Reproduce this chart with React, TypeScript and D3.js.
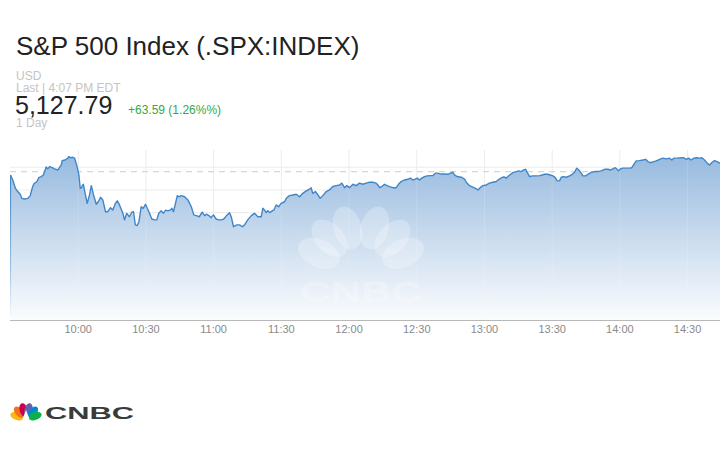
import React from "react";
import * as d3 from "d3";

// ---- Data ----
const title = "S&P 500 Index (.SPX:INDEX)";
const currency = "USD";
const lastLabel = "Last | 4:07 PM EDT";
const lastPrice = "5,127.79";
const changeLabel = "+63.59 (1.26%%)";
const rangeLabel = "1 Day";

const sessionOpen = "09:30";
const sessionClose = "16:00";
const tickLabels = ["10:00", "10:30", "11:00", "11:30", "12:00", "12:30", "13:00", "13:30", "14:00", "14:30"];
const gridLevels = [5075, 5085, 5095, 5105, 5115, 5125, 5135];
const referenceLevel = 5133.1;
const yDomain = [5067.7, 5142.6];

// [minutes after 9:30, price]
const series: [number, number][] = [
  [0, 5131.6], [1.0, 5129.4], [2.2, 5125.7], [3.2, 5124.3], [4.3, 5123.1], [5.0, 5121.3], [6.2, 5121.0], [7.7, 5121.3],
  [8.7, 5122.4], [9.6, 5125.7], [10.3, 5127.6], [11.7, 5128.7], [12.5, 5130.4], [13.6, 5130.9], [14.6, 5131.6], [15.8, 5135.1],
  [16.5, 5134.3], [17.3, 5135.3], [18.5, 5134.8], [19.5, 5134.3], [21.0, 5133.8], [22.5, 5136.0], [22.9, 5137.9], [24.2, 5138.2],
  [25.4, 5139.0], [25.8, 5139.7], [26.6, 5139.2], [27.6, 5139.4], [28.4, 5139.0], [29.4, 5135.7], [30.3, 5131.6], [30.9, 5125.7],
  [31.5, 5126.0], [31.8, 5126.9], [32.3, 5127.5], [32.9, 5124.3], [34.0, 5119.1], [35.0, 5122.8], [35.8, 5126.9], [36.8, 5122.8],
  [38.0, 5118.7], [39.1, 5120.2], [39.9, 5121.8], [40.9, 5120.6], [42.1, 5115.4], [43.1, 5115.4], [44.3, 5117.2], [45.3, 5116.2],
  [46.5, 5119.1], [47.3, 5120.2], [48.3, 5118.4], [49.8, 5114.7], [50.5, 5111.8], [51.5, 5114.7], [52.7, 5113.2], [53.7, 5115.2],
  [54.5, 5115.4], [55.3, 5109.6], [56.1, 5109.3], [56.9, 5111.0], [57.9, 5117.6], [58.8, 5116.9], [59.8, 5118.7], [60.6, 5116.9],
  [61.6, 5114.7], [62.6, 5112.2], [63.8, 5111.8], [64.8, 5111.8], [65.7, 5114.7], [66.8, 5115.8], [67.7, 5114.7], [68.7, 5116.1],
  [69.7, 5115.8], [70.9, 5116.2], [71.5, 5116.9], [72.2, 5115.4], [73.1, 5119.1], [73.9, 5122.5], [74.6, 5122.0], [75.6, 5122.5],
  [77.1, 5122.0], [78.6, 5120.6], [80.1, 5117.6], [81.2, 5114.0], [82.3, 5113.7], [83.7, 5113.2], [84.9, 5115.2], [86.0, 5113.7],
  [86.8, 5114.3], [87.9, 5113.7], [88.9, 5112.8], [89.9, 5114.0], [91.1, 5112.2], [92.2, 5111.8], [93.4, 5111.8], [94.5, 5112.2],
  [96.0, 5114.0], [97.0, 5115.0], [97.8, 5113.2], [98.8, 5108.8], [100.3, 5109.6], [101.5, 5109.6], [102.7, 5108.8], [103.7, 5109.6],
  [105.1, 5111.8], [106.7, 5113.7], [108.1, 5114.7], [109.6, 5113.2], [111.1, 5113.2], [111.8, 5116.9], [112.5, 5116.2], [113.3, 5115.0],
  [114.0, 5115.9], [114.8, 5115.0], [116.0, 5115.8], [116.7, 5116.2], [117.7, 5118.4], [118.8, 5117.6], [119.9, 5119.1], [121.4, 5119.8],
  [122.2, 5121.3], [123.6, 5122.5], [125.1, 5122.8], [126.6, 5123.1], [128.1, 5122.0], [129.5, 5123.5], [131.0, 5124.6], [132.5, 5125.4],
  [133.2, 5126.0], [133.9, 5123.5], [135.1, 5124.3], [136.2, 5122.8], [137.2, 5121.3], [138.4, 5122.5], [139.9, 5124.3], [141.3, 5125.0],
  [142.8, 5126.5], [144.3, 5126.9], [145.8, 5127.2], [146.8, 5128.0], [148.0, 5126.0], [149.0, 5126.9], [150.2, 5126.0], [151.7, 5127.5],
  [153.2, 5126.9], [154.6, 5128.0], [156.1, 5127.5], [157.6, 5128.0], [159.1, 5128.4], [160.5, 5128.4], [162.0, 5128.0], [162.8, 5127.2],
  [163.5, 5126.0], [164.5, 5126.5], [165.7, 5127.5], [166.9, 5126.9], [167.9, 5126.5], [169.4, 5126.0], [170.9, 5126.0], [171.9, 5127.5],
  [173.1, 5128.7], [174.6, 5129.4], [176.0, 5129.7], [177.2, 5130.2], [178.3, 5129.4], [179.3, 5129.8], [180.2, 5130.2], [181.2, 5129.4],
  [182.2, 5130.2], [183.4, 5130.9], [184.6, 5131.2], [186.1, 5131.3], [187.1, 5131.3], [188.2, 5132.4], [189.1, 5132.4], [190.8, 5132.0],
  [192.3, 5132.0], [193.8, 5131.9], [195.0, 5132.4], [196.0, 5132.8], [196.7, 5131.6], [197.9, 5130.9], [199.7, 5130.6], [201.2, 5129.8],
  [201.9, 5128.4], [203.4, 5126.9], [204.8, 5126.2], [206.0, 5125.7], [207.1, 5125.0], [208.1, 5126.0], [209.3, 5126.9], [210.8, 5127.2],
  [212.2, 5128.0], [213.7, 5128.4], [215.2, 5128.7], [216.4, 5129.7], [217.9, 5130.6], [218.9, 5130.7], [219.6, 5130.2], [221.1, 5131.6],
  [222.6, 5132.6], [224.1, 5133.1], [225.2, 5133.4], [226.3, 5133.1], [227.3, 5133.8], [228.2, 5134.1], [229.0, 5132.6], [230.0, 5130.9],
  [231.4, 5131.2], [232.9, 5131.2], [234.4, 5131.3], [235.6, 5131.6], [236.6, 5131.9], [238.1, 5131.9], [239.1, 5131.6], [240.3, 5131.2],
  [241.4, 5130.4], [242.2, 5129.0], [243.3, 5129.1], [244.0, 5130.6], [245.0, 5130.9], [246.2, 5130.6], [247.7, 5131.2], [248.9, 5131.9],
  [249.9, 5132.8], [250.9, 5134.6], [251.8, 5133.8], [252.9, 5132.4], [253.6, 5131.2], [254.8, 5131.2], [255.8, 5131.9], [257.3, 5132.8],
  [258.8, 5133.1], [260.2, 5133.1], [261.7, 5133.4], [263.2, 5134.1], [264.7, 5134.1], [265.9, 5133.8], [266.9, 5134.3], [267.9, 5134.8],
  [268.8, 5134.1], [269.4, 5133.4], [270.3, 5134.3], [271.3, 5134.6], [272.8, 5134.6], [274.3, 5134.6], [275.3, 5134.8], [276.2, 5136.3],
  [277.2, 5137.8], [278.7, 5137.9], [280.2, 5138.2], [281.4, 5138.5], [282.4, 5137.5], [283.6, 5137.0], [285.0, 5137.5], [286.1, 5137.8],
  [287.6, 5138.5], [289.0, 5139.0], [290.5, 5138.7], [292.0, 5139.0], [293.0, 5138.2], [293.9, 5139.0], [295.4, 5139.0], [297.2, 5139.2],
  [298.3, 5139.2], [299.4, 5138.5], [300.4, 5139.0], [301.6, 5138.2], [302.8, 5139.0], [303.8, 5139.2], [305.3, 5139.0], [306.3, 5139.2],
  [307.5, 5138.2], [308.7, 5136.8], [309.7, 5136.0], [310.9, 5137.2], [311.9, 5137.9], [313.1, 5137.5], [314.2, 5136.8], [316.0, 5136.4],
];

const logoColors = ["#fcb711", "#f37021", "#cc004c", "#6460aa", "#0089d0", "#0db14b"];

// ---- Layout ----
const W = 720;
const H = 450;
const plotLeft = 10;
const plotTop = 150;
const plotBottom = 320;
const pxPerMinute = 2.257;
const FONT = "'Liberation Sans', Arial, Helvetica, sans-serif";

const parseHM = (s: string) => {
  const [h, m] = s.split(":").map(Number);
  return new Date(2024, 4, 3, h, m);
};

export default function App() {
  const open = parseHM(sessionOpen);
  const close = parseHM(sessionClose);
  const sessionMinutes = (close.getTime() - open.getTime()) / 60000;
  const x = d3
    .scaleTime()
    .domain([open, close])
    .range([plotLeft + 0.5, plotLeft + 0.5 + sessionMinutes * pxPerMinute]);
  const y = d3.scaleLinear().domain(yDomain).range([plotBottom, plotTop]);

  const data = series.map(([m, v]) => ({ t: new Date(open.getTime() + m * 60000), v }));
  const area = d3
    .area<{ t: Date; v: number }>()
    .x((d) => x(d.t))
    .y0(plotBottom)
    .y1((d) => y(d.v));
  const line = d3
    .line<{ t: Date; v: number }>()
    .x((d) => x(d.t))
    .y((d) => y(d.v));

  const ticks = tickLabels.map((s) => ({ label: s, x: x(parseHM(s)) }));
  const first = data[0];

  // watermark geometry (decorative)
  const wmBaseX = (x(parseHM("11:30")) + x(parseHM("12:30"))) / 2 + 12;
  const wmBaseY = 272;
  const wmAngles = [-66, -43, -17, 17, 43, 66];

  const logoBaseX = 26;
  const logoBaseY = 419;
  const logoAngles = [-72, -44, -15, 15, 44, 72];

  return (
    <svg
      width={W}
      height={H}
      viewBox={`0 0 ${W} ${H}`}
      style={{ position: "absolute", left: 0, top: 0, background: "#fff" }}
      fontFamily={FONT}
    >
      <defs>
        <linearGradient id="areaFill" gradientUnits="userSpaceOnUse" x1="0" y1={plotTop} x2="0" y2={plotBottom}>
          <stop offset="0" stopColor="#93b8de" />
          <stop offset="0.45" stopColor="#c3d7ec" />
          <stop offset="1" stopColor="#fbfcfe" />
        </linearGradient>
        <linearGradient id="edgeFade" gradientUnits="userSpaceOnUse" x1="0" y1={y(first.v)} x2="0" y2={plotBottom}>
          <stop offset="0" stopColor="#3f86c8" />
          <stop offset="0.6" stopColor="#3f86c8" stopOpacity="0.5" />
          <stop offset="1" stopColor="#3f86c8" stopOpacity="0" />
        </linearGradient>
        <clipPath id="plotClip">
          <rect x={plotLeft} y={plotTop - 10} width={W - plotLeft} height={plotBottom - plotTop + 10} />
        </clipPath>
      </defs>

      {/* Header */}
      <text x={16} y={55} fontSize={26} fill="#222">{title}</text>
      <text x={16} y={80} fontSize={12} fill="#c4c4c4">{currency}</text>
      <text x={16} y={92} fontSize={12} fill="#c4c4c4">{lastLabel}</text>
      <text x={15} y={114} fontSize={25} fill="#222">{lastPrice}</text>
      <text x={128} y={114} fontSize={12} fill="#33aa44">{changeLabel}</text>
      <text x={16} y={127} fontSize={12} fill="#c4c4c4">{rangeLabel}</text>

      {/* Grid */}
      <g>
        {gridLevels.map((g) => (
          <line key={g} x1={plotLeft} x2={W} y1={y(g)} y2={y(g)} stroke="#ebebeb" strokeWidth={1} />
        ))}
        {ticks.map((t) => (
          <line key={t.label} x1={t.x} x2={t.x} y1={plotTop} y2={plotBottom} stroke="#ebebeb" strokeWidth={1} />
        ))}
        <line x1={plotLeft} x2={W} y1={y(referenceLevel)} y2={y(referenceLevel)} stroke="#c6e3b6" strokeWidth={1.2} strokeDasharray="6,5" />
      </g>

      <g clipPath="url(#plotClip)">
        <path d={area(data) || ""} fill="url(#areaFill)" />
        {ticks.map((t) => (
          <line key={t.label} x1={t.x} x2={t.x} y1={y(d3.max(data, (d) => d.v) as number)} y2={plotBottom} stroke="#ffffff" strokeOpacity={0.15} strokeWidth={1} />
        ))}

        {/* watermark */}
        <g fill="#ffffff" fillOpacity={0.26}>
          {wmAngles.map((a, i) => {
            const r = (a * Math.PI) / 180;
            const d = 46;
            const cx = wmBaseX + d * Math.sin(r);
            const cy = wmBaseY - d * Math.cos(r);
            return <ellipse key={i} cx={cx} cy={cy} rx={14} ry={22} transform={`rotate(${a} ${cx} ${cy})`} />;
          })}
          <text
            x={wmBaseX}
            y={302}
            fontSize={30}
            fontWeight={900}
            textAnchor="middle"
            textLength={122}
            lengthAdjust="spacingAndGlyphs"
          >
            CNBC
          </text>
        </g>

        <line x1={x(first.t)} x2={x(first.t)} y1={y(first.v)} y2={plotBottom} stroke="url(#edgeFade)" strokeWidth={1.2} />
        <path d={line(data) || ""} fill="none" stroke="#3f86c8" strokeWidth={1.4} strokeLinejoin="round" />
      </g>

      {/* Axis */}
      <line x1={plotLeft} x2={W} y1={plotBottom + 0.5} y2={plotBottom + 0.5} stroke="#b8b8b8" strokeWidth={1} />
      {ticks.map((t) => (
        <text key={t.label} x={t.x} y={333} fontSize={11} fill="#8a8a8a" textAnchor="middle">
          {t.label}
        </text>
      ))}

      {/* Logo */}
      <g>
        {logoAngles.map((a, i) => {
          const r = (a * Math.PI) / 180;
          const d = 9.5;
          const cx = logoBaseX + d * Math.sin(r);
          const cy = logoBaseY - d * Math.cos(r);
          return <ellipse key={i} cx={cx} cy={cy} rx={4} ry={6.8} fill={logoColors[i]} transform={`rotate(${a} ${cx} ${cy})`} />;
        })}
        <path d={`M${logoBaseX - 3.5} ${logoBaseY} L${logoBaseX} ${logoBaseY - 9} L${logoBaseX + 3.5} ${logoBaseY} Z`} fill="#fff" />
        <text x={45} y={419} fontSize={17} fontWeight={700} fill="#3a3a3a" textLength={89} lengthAdjust="spacingAndGlyphs">
          CNBC
        </text>
      </g>
    </svg>
  );
}
